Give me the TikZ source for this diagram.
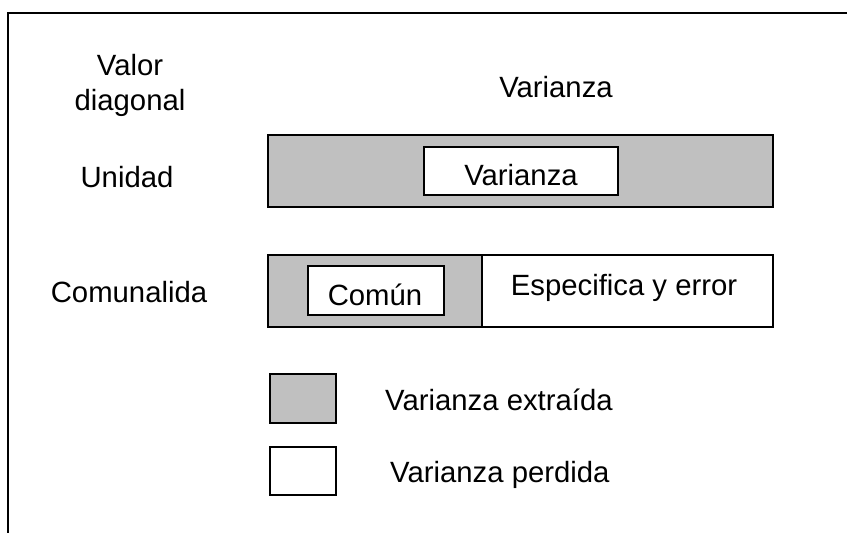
\documentclass[tikz,border=0pt]{standalone}
\usepackage{fontspec}
\setmainfont{Liberation Sans}
\definecolor{shade}{HTML}{C0C0C0}
\begin{document}
\begin{tikzpicture}[x=0.03cm,y=-0.03cm,
  lw/.style={line width=1.9pt},
  bar/.style={lw, draw=black, rectangle, inner sep=0pt},
  grayfill/.style={bar, fill=shade},
  whitefill/.style={bar, fill=white},
  lbl/.style={anchor=base, inner sep=0pt, font=\fontsize{25}{30}\selectfont}]
\useasboundingbox (0,0) rectangle (847,532);
\clip (0,0) rectangle (847,532);
\draw[lw] (8,560) -- (8,13) -- (870,13);
% top bar
\node[grayfill, minimum width={505*0.03cm}, minimum height={72*0.03cm}] (unidadbar) at (520.5,171) {};
\node[whitefill, minimum width={194*0.03cm}, minimum height={48*0.03cm}] (varbox) at (521,171) {};
% second bar
\node[grayfill, minimum width={214*0.03cm}, minimum height={72*0.03cm}] (comgray) at (375,291) {};
\node[whitefill, minimum width={291*0.03cm}, minimum height={72*0.03cm}] (especbox) at (627.5,291) {};
\node[whitefill, minimum width={136*0.03cm}, minimum height={49*0.03cm}] (comunbox) at (376,290.5) {};
% legend
\node[grayfill, minimum width={66*0.03cm}, minimum height={49*0.03cm}] (leggray) at (303,398.5) {};
\node[whitefill, minimum width={66*0.03cm}, minimum height={48*0.03cm}] (legwhite) at (303,471) {};
% texts
\node[lbl] (t1) at (130,75) {Valor};
\node[lbl] (t2) at (130,110) {diagonal};
\node[lbl] (t3) at (556,97) {Varianza};
\node[lbl] (t4) at (127,187) {Unidad};
\node[lbl] (t5) at (521,185) {Varianza};
\node[lbl] (t6) at (129,302) {Comunalida};
\node[lbl] (t7) at (375,305) {Común};
\node[lbl] (t8) at (624,295) {Especifica y error};
\node[lbl, anchor=base west] (t9) at (385,410) {Varianza extraída};
\node[lbl, anchor=base west] (t10) at (390,482) {Varianza perdida};
\end{tikzpicture}
\end{document}
